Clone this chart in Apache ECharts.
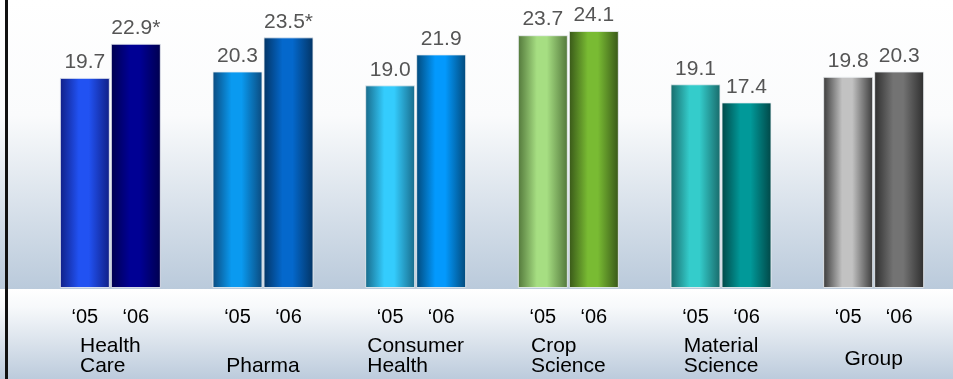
<!DOCTYPE html>
<html>
<head>
	<meta charset="UTF-8">
	<title>Segment margins</title>
	<script src="https://cdn.jsdelivr.net/npm/echarts@6/dist/echarts.min.js"></script>
	<style>
		html, body { margin: 0; padding: 0; background: #fff; }
		#display { width: 953px; height: 379px; }
	</style>
</head>
<body>
	<div id="display"></div>
<script>
	// data
	var categories = ['Health Care', 'Pharma', 'Consumer Health', 'Crop Science', 'Material Science', 'Group'];
	var categoryLines = ['Health\nCare', '\nPharma', 'Consumer\nHealth', 'Crop\nScience', 'Material\nScience', 'Group'];
	var years = ['‘05', '‘06'];
	var values05 = [19.7, 20.3, 19.0, 23.7, 19.1, 19.8];
	var values06 = [22.9, 23.5, 21.9, 24.1, 17.4, 20.3];
	var marks06 = ['*', '*', '', '', '', ''];

	// bar shading: [edge, centre] per category
	var shade05 = [['#101f86', '#2152f2'], ['#0b4a7e', '#0a9af0'], ['#186a8a', '#34ccfd'], ['#52773a', '#a6de82'], ['#186a6a', '#34cccb'], ['#3a3a3a', '#c2c2c2']];
	var shade06 = [['#00004e', '#000094'], ['#033464', '#0468cc'], ['#02497a', '#0399fd'], ['#385718', '#79bb33'], ['#014747', '#019999'], ['#2e2e2e', '#737373']];

	var font = '"Liberation Sans", Arial, sans-serif';

	function cylinder(pair) {
		return new echarts.graphic.LinearGradient(0, 0, 1, 0, [
			{ offset: 0, color: pair[0] },
			{ offset: 0.38, color: pair[1] },
			{ offset: 0.58, color: pair[1] },
			{ offset: 1, color: pair[0] }
		]);
	}

	function barData(values, shades) {
		return values.map(function (v, i) {
			return { value: v, itemStyle: { color: cylinder(shades[i]) } };
		});
	}

	var valueLabel = {
		show: true,
		position: 'top',
		distance: 5,
		fontFamily: font,
		fontSize: 21,
		lineHeight: 21,
		color: '#555555'
	};

	var option = {
		animation: false,
		graphic: [
			{
				type: 'rect', z: -10, silent: true,
				shape: { x: 0, y: 0, width: 953, height: 289 },
				style: {
					fill: new echarts.graphic.LinearGradient(0, 0, 0, 1, [
						{ offset: 0, color: '#ffffff' },
						{ offset: 0.4, color: '#fafbfc' },
						{ offset: 1, color: '#bacadb' }
					])
				}
			},
			{
				type: 'rect', z: -10, silent: true,
				shape: { x: 0, y: 289, width: 953, height: 90 },
				style: {
					fill: new echarts.graphic.LinearGradient(0, 0, 0, 1, [
						{ offset: 0, color: '#ffffff' },
						{ offset: 0.2, color: '#f7f9fb' },
						{ offset: 1, color: '#bccbdc' }
					])
				}
			},
			{
				type: 'rect', z: 10, silent: true,
				shape: { x: 5, y: 0, width: 3, height: 379 },
				style: { fill: '#111111' }
			}
		],
		grid: { left: 34, right: 3, top: 0, bottom: 91 },
		xAxis: [
			{
				type: 'category',
				data: categories,
				axisLine: { show: false },
				axisTick: { show: false },
				axisLabel: {
					margin: 19,
					interval: 0,
					formatter: function () {
						return '{y|' + years[0] + '}{y|' + years[1] + '}';
					},
					rich: {
						y: { width: 51, align: 'center', fontFamily: font, fontSize: 20, lineHeight: 20, color: '#000' }
					}
				}
			},
			{
				type: 'category',
				position: 'bottom',
				data: categories,
				axisLine: { show: false },
				axisTick: { show: false },
				axisLabel: {
					margin: 48,
					interval: 0,
					formatter: function (v, i) {
						var lines = categoryLines[i].split('\n');
						var style = lines.length > 1 ? 'n' : 'one';
						return lines.map(function (s) { return '{' + style + '|' + s + '}'; }).join('\n');
					},
					rich: {
						n: { align: 'left', fontFamily: font, fontSize: 21, lineHeight: 20, color: '#000' },
						one: { align: 'left', fontFamily: font, fontSize: 21, lineHeight: 46, color: '#000' }
					}
				}
			}
		],
		yAxis: {
			type: 'value',
			min: 0,
			max: 27,
			show: false,
			splitLine: { show: false }
		},
		series: [
			{
				name: years[0],
				type: 'bar',
				barWidth: 50,
				barGap: '2%',
				data: barData(values05, shade05),
				itemStyle: { borderColor: 'rgba(235,238,242,0.85)', borderWidth: 1 },
				label: Object.assign({}, valueLabel, {
					formatter: function (p) { return p.value.toFixed(1); }
				})
			},
			{
				name: years[1],
				type: 'bar',
				barWidth: 50,
				data: barData(values06, shade06),
				itemStyle: { borderColor: 'rgba(235,238,242,0.85)', borderWidth: 1 },
				label: Object.assign({}, valueLabel, {
					formatter: function (p) { return p.value.toFixed(1) + marks06[p.dataIndex]; }
				})
			}
		]
	};

	var myChart = echarts.init(document.getElementById('display'));
	myChart.setOption(option);
</script>
</body>
</html>
